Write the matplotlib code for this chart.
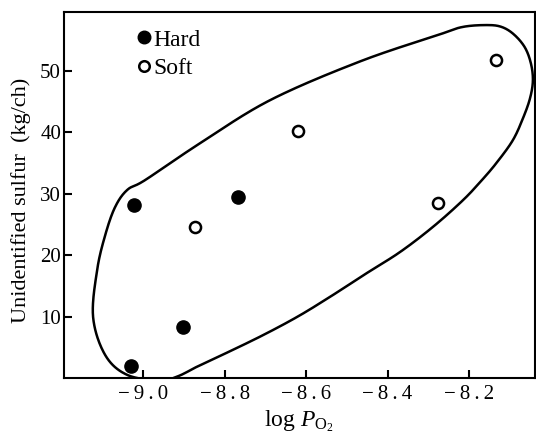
import numpy as np
import matplotlib
matplotlib.use("Agg")
import matplotlib.pyplot as plt

plt.rcParams['font.family'] = ['Liberation Serif', 'DejaVu Serif']
plt.rcParams['mathtext.fontset'] = 'custom'
plt.rcParams['mathtext.rm'] = 'Liberation Serif'
plt.rcParams['mathtext.it'] = 'Liberation Serif:italic'

# Data
hard_x = [-9.022, -8.766, -8.902, -9.030]
hard_y = [28.2, 29.4, 8.3, 2.0]
soft_x = [-8.872, -8.620, -8.277, -8.134]
soft_y = [24.6, 40.2, 28.5, 51.7]

# hand-drawn enclosing envelope (control points, data units)
env_x = [-8.958, -9.039, -9.093, -9.123, -9.113, -9.093, -9.069, -9.039, -8.995,
         -8.860, -8.688, -8.467, -8.271, -8.215, -8.156, -8.120, -8.090, -8.063,
         -8.048, -8.043, -8.050, -8.067, -8.092, -8.131, -8.168, -8.215, -8.288,
         -8.369, -8.450, -8.534, -8.615, -8.696, -8.779, -8.860, -8.914]
env_y = [-0.4, 0.5, 3.7, 9.9, 17.6, 23.3, 27.8, 30.6, 32.2,
         38.2, 45.2, 51.5, 55.9, 57.1, 57.4, 57.1, 55.9, 53.8,
         51.2, 48.4, 45.5, 42.3, 38.7, 35.1, 32.2, 28.9, 24.6,
         20.5, 17.1, 13.5, 10.2, 7.3, 4.6, 2.1, 0.3]

xticks = [-9.0, -8.8, -8.6, -8.4, -8.2]
yticks = [10, 20, 30, 40, 50]


def catmull_rom_closed(xs, ys, n=30):
    P = np.column_stack([xs, ys]).astype(float)
    N = len(P)
    out = []
    t = np.linspace(0, 1, n, endpoint=False)[:, None]
    for i in range(N):
        p0, p1, p2, p3 = P[i - 1], P[i], P[(i + 1) % N], P[(i + 2) % N]
        seg = 0.5 * ((2 * p1) + (-p0 + p2) * t + (2 * p0 - 5 * p1 + 4 * p2 - p3) * t ** 2
                     + (-p0 + 3 * p1 - 3 * p2 + p3) * t ** 3)
        out.append(seg)
    out.append(P[:1])
    arr = np.vstack(out)
    return arr[:, 0], arr[:, 1]


fig = plt.figure(figsize=(5.36, 4.34), dpi=100)
ax = fig.add_axes([0.119, 0.129, 0.879, 0.843])

cx, cy = catmull_rom_closed(env_x, env_y)
ax.plot(cx, cy, color='black', lw=1.8, clip_on=True)

ax.plot(hard_x, hard_y, 'o', ms=9.5, color='black', label='Hard', linestyle='none')
ax.plot(soft_x, soft_y, 'o', ms=8, mfc='white', mec='black', mew=1.8, label='Soft',
        linestyle='none')

ax.set_xlim(-9.195, -8.038)
ax.set_ylim(0, 59.5)
ax.set_xticks(xticks)
sp = "\u2009"
ax.set_xticklabels([sp.join(f"\u2212{abs(v):.1f}") for v in xticks])
ax.set_yticks(yticks)
ax.tick_params(direction='in', length=6, width=1.5, labelsize=15, colors='black', pad=5)
ax.tick_params(axis='y', pad=2)
for s in ax.spines.values():
    s.set_linewidth(1.5)

ax.set_xlabel(r"log $\it{P}_{\rm O_2}$", fontsize=17, labelpad=3)
ax.set_ylabel("Unidentified sulfur  (kg/ch)", fontsize=16, labelpad=3)
ax.yaxis.set_label_coords(-0.07, 0.485)

leg = ax.legend(loc='upper left', bbox_to_anchor=(0.105, 1.005), frameon=False,
                fontsize=17, handletextpad=-0.1, handlelength=1.0, labelspacing=0.3,
                borderaxespad=0.4, markerscale=0.95)

fig.savefig("out.png", dpi=100)
